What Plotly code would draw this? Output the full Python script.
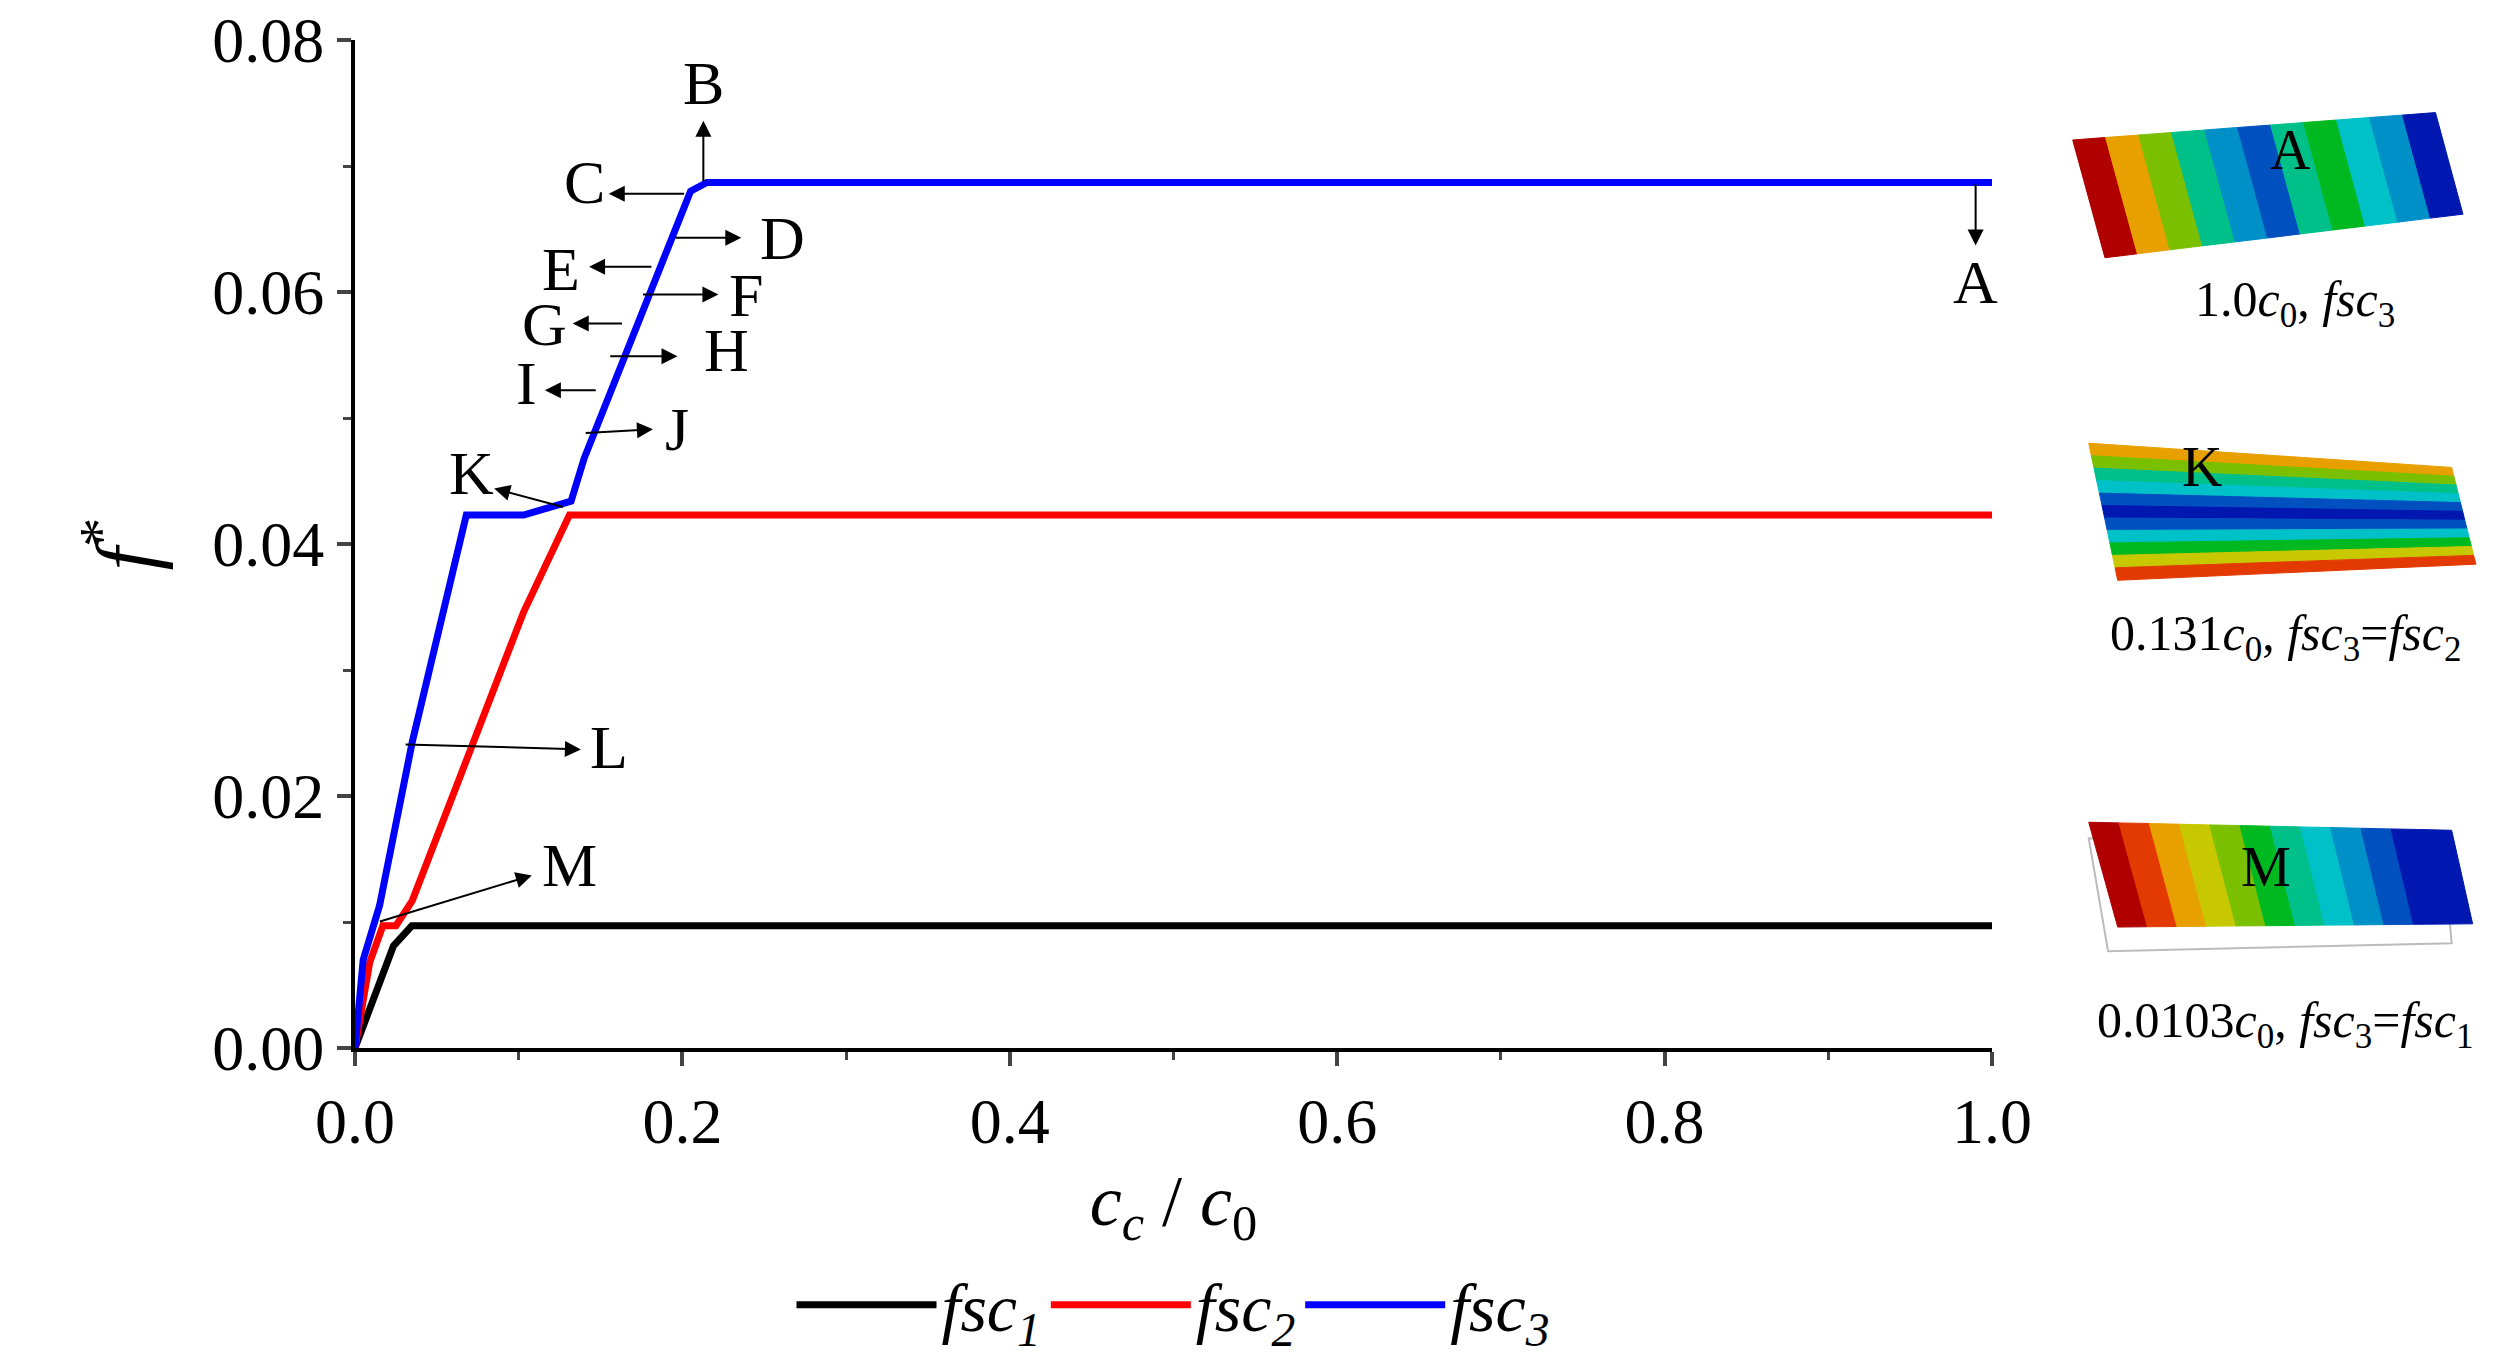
import plotly.graph_objects as go

# data
x_fsc1 = [0.0, 0.0235, 0.0347, 1.0]
y_fsc1 = [0.0, 0.0081, 0.0097, 0.0097]
x_fsc2 = [0.0, 0.009, 0.017, 0.025, 0.035, 0.103, 0.131, 1.0]
y_fsc2 = [0.0, 0.0068, 0.0097, 0.0097, 0.0117, 0.0346, 0.0423, 0.0423]
x_fsc3 = [0.0, 0.005, 0.015, 0.035, 0.068, 0.103, 0.132, 0.14, 0.205, 0.215, 1.0]
y_fsc3 = [0.0, 0.007, 0.0113, 0.0243, 0.0423, 0.0423, 0.0434, 0.0468, 0.068, 0.0687, 0.0687]

# label, text position, arrow tail (on curve), arrow head
markers = [
    ("A", (0.99, 0.0608), (0.99, 0.0687), (0.99, 0.0637)),
    ("B", (0.2128, 0.0766), (0.2128, 0.0687), (0.2128, 0.0736)),
    ("C", (0.140, 0.0687), (0.202, 0.0678), (0.155, 0.0678)),
    ("D", (0.261, 0.0643), (0.195, 0.0643), (0.236, 0.0643)),
    ("E", (0.126, 0.0618), (0.182, 0.0620), (0.143, 0.0620)),
    ("F", (0.239, 0.0598), (0.175, 0.0598), (0.222, 0.0598)),
    ("G", (0.116, 0.0575), (0.164, 0.0575), (0.133, 0.0575)),
    ("H", (0.227, 0.0554), (0.155, 0.0549), (0.197, 0.0549)),
    ("I", (0.105, 0.0528), (0.148, 0.0522), (0.116, 0.0522)),
    ("J", (0.197, 0.0491), (0.140, 0.0488), (0.182, 0.0491)),
    ("K", (0.071, 0.0456), (0.128, 0.0429), (0.085, 0.0444)),
    ("L", (0.155, 0.0239), (0.030, 0.0241), (0.138, 0.0237)),
    ("M", (0.131, 0.0145), (0.0143, 0.0100), (0.108, 0.0137)),
]

FONT = "Liberation Serif"
S = 2516 / 1560  # preview-to-page scale
L, R, T, B = 215 * S, 1230 * S, 20 * S, 645 * S

fig = go.Figure()
for xs, ys, name, col in [(x_fsc1, y_fsc1, "<i>fsc<sub>1</sub></i>", "black"),
                          (x_fsc2, y_fsc2, "<i>fsc<sub>2</sub></i>", "red"),
                          (x_fsc3, y_fsc3, "<i>fsc<sub>3</sub></i>", "blue")]:
    fig.add_trace(go.Scatter(x=xs, y=ys, mode="lines", name=name,
                             line=dict(color=col, width=7)))

ann = []
for lab, (tx, ty), (ax, ay), (hx, hy) in markers:
    ann.append(dict(x=hx, y=hy, ax=ax, ay=ay, xref="x", yref="y", axref="x", ayref="y",
                    text="", showarrow=True, arrowhead=2, arrowsize=1.6, arrowwidth=2,
                    arrowcolor="black"))
    ann.append(dict(x=tx, y=ty, text=lab, showarrow=False, font=dict(size=62)))

def px(X, Y):
    return (X * S - L) / (R - L), (B - Y * S) / (B - T)

jet = ["#b00000", "#e23a00", "#e8a000", "#c8c800", "#7ac000", "#00b820",
       "#00c08a", "#00c0c8", "#0090c8", "#0050c0", "#0018b0"]

def lerp(a, b, t):
    return (a[0] + (b[0] - a[0]) * t, a[1] + (b[1] - a[1]) * t)

def poly(pts):
    pp = [px(*p) for p in pts]
    return "M " + " L ".join(f"{a:.4f},{b:.4f}" for a, b in pp) + " Z"

shapes = []
def plate(tl, tr, br, bl, cols, vertical=True):
    n = len(cols)
    for i, c in enumerate(cols):
        t0, t1 = i / n, (i + 1) / n
        if vertical:
            pts = [lerp(tl, tr, t0), lerp(tl, tr, t1), lerp(bl, br, t1), lerp(bl, br, t0)]
        else:
            pts = [lerp(tl, bl, t0), lerp(tr, br, t0), lerp(tr, br, t1), lerp(tl, bl, t1)]
        shapes.append(dict(type="path", path=poly(pts), xref="paper", yref="paper",
                           fillcolor=c, line=dict(width=1, color=c), layer="above"))

# plate A
plate((1280, 82), (1505, 65), (1522, 128), (1300, 155),
      [jet[0], jet[2], jet[4], jet[6], jet[8], jet[9], jet[6], jet[5], jet[7], jet[8], jet[10]])
# plate K
plate((1290, 270), (1515, 285), (1530, 345), (1308, 355),
      [jet[2], jet[4], jet[6], jet[7], jet[9], jet[10], jet[9], jet[7], jet[5], jet[3], jet[1]],
      vertical=False)
# plate M with white undeformed outline
shapes.append(dict(type="path", xref="paper", yref="paper", layer="above",
                   path=poly([(1290, 515), (1510, 525), (1515, 580), (1302, 585)]),
                   fillcolor="white", line=dict(width=2, color="#bbbbbb")))
plate((1290, 505), (1515, 510), (1528, 568), (1308, 570),
      [jet[0], jet[1], jet[2], jet[3], jet[4], jet[5], jet[6], jet[7], jet[8], jet[9], jet[10], jet[10]])

for txt, X, Y in [("1.0<i>c</i><sub>0</sub>, <i>fsc</i><sub>3</sub>", 1418, 183),
                  ("0.131<i>c</i><sub>0</sub>, <i>fsc</i><sub>3</sub>=<i>fsc</i><sub>2</sub>", 1412, 390),
                  ("0.0103<i>c</i><sub>0</sub>, <i>fsc</i><sub>3</sub>=<i>fsc</i><sub>1</sub>", 1412, 630)]:
    a, b = px(X, Y)
    ann.append(dict(x=a, y=b, xref="paper", yref="paper", text=txt, showarrow=False,
                    xanchor="center", yanchor="middle", font=dict(size=50)))
for lab, X, Y in [("A", 1415, 88), ("K", 1360, 285), ("M", 1400, 533)]:
    a, b = px(X, Y)
    ann.append(dict(x=a, y=b, xref="paper", yref="paper", text=lab, showarrow=False,
                    xanchor="center", yanchor="middle", font=dict(size=56)))

fig.update_layout(
    width=2516, height=1370, plot_bgcolor="white", paper_bgcolor="white",
    font=dict(family=FONT, size=64, color="black"),
    margin=dict(l=L, r=2516 - R, t=T, b=1370 - B),
    annotations=ann, shapes=shapes,
    legend=dict(orientation="h", x=0.5, xanchor="center", y=-0.255, yanchor="middle",
                font=dict(size=68), itemwidth=140),
)
fig.update_xaxes(range=[0, 1], tickvals=[0, 0.2, 0.4, 0.6, 0.8, 1.0],
                 ticktext=["0.0", "0.2", "0.4", "0.6", "0.8", "1.0"],
                 automargin=False, ticklabeloverflow="allow",
                 showline=True, linecolor="black", linewidth=4, ticks="outside",
                 ticklen=14, tickwidth=4, showgrid=False, zeroline=False,
                 minor=dict(ticks="outside", dtick=0.1, ticklen=8, tickwidth=3),
                 title=dict(text="<i>c<sub>c</sub></i> / <i>c</i><sub>0</sub>",
                            font=dict(size=72), standoff=20))
fig.update_yaxes(range=[0, 0.08], tickvals=[0, 0.02, 0.04, 0.06, 0.08],
                 ticktext=["0.00", "0.02", "0.04", "0.06", "0.08"],
                 automargin=False, ticklabeloverflow="allow",
                 showline=True, linecolor="black", linewidth=4, ticks="outside",
                 ticklen=14, tickwidth=4, showgrid=False, zeroline=False,
                 minor=dict(ticks="outside", dtick=0.01, ticklen=8, tickwidth=3),
                 title=dict(text="<i>f</i><sup>*</sup>", font=dict(size=84), standoff=30))

fig.write_html("out.html")
